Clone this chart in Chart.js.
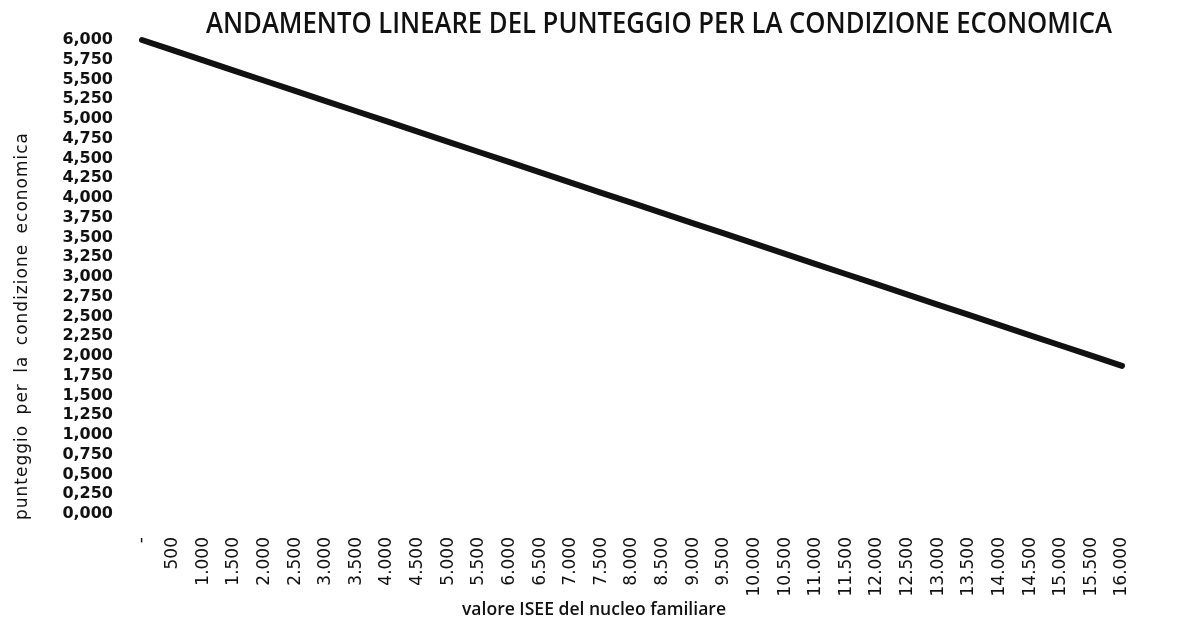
<!DOCTYPE html>
<html>
<head>
<meta charset="utf-8">
<script src="https://cdn.jsdelivr.net/npm/chart.js@4"></script>
<style>
  html, body { margin: 0; padding: 0; background: #ffffff; }
  #wrap { width: 1181px; height: 636px; position: relative; }
</style>
</head>
<body>
<div id="wrap"><canvas id="c" width="1181" height="636"></canvas></div>
<script>
const chartTitle = "ANDAMENTO LINEARE DEL PUNTEGGIO PER LA CONDIZIONE ECONOMICA";
const xTitle = "valore ISEE del nucleo familiare";
const yTitle = "punteggio per la condizione economica";

const categories = ["-", "500", "1.000", "1.500", "2.000", "2.500", "3.000", "3.500", "4.000", "4.500",
  "5.000", "5.500", "6.000", "6.500", "7.000", "7.500", "8.000", "8.500", "9.000", "9.500",
  "10.000", "10.500", "11.000", "11.500", "12.000", "12.500", "13.000", "13.500", "14.000", "14.500",
  "15.000", "15.500", "16.000"];

const punteggio = [6.000, 5.871, 5.742, 5.613, 5.484, 5.355, 5.227, 5.098, 4.969, 4.840,
  4.711, 4.582, 4.453, 4.324, 4.195, 4.066, 3.938, 3.809, 3.680, 3.551,
  3.422, 3.293, 3.164, 3.035, 2.906, 2.777, 2.648, 2.520, 2.391, 2.262,
  2.133, 2.004, 1.875];

const yMin = 0, yMax = 6, yStep = 0.25;

const textPlugin = {
  id: 'texts',
  afterDraw(chart) {
    const ctx = chart.ctx;
    ctx.save();
    ctx.fillStyle = '#111111';
    // main title
    ctx.font = "600 28px 'Open Sans'";
    ctx.textBaseline = 'alphabetic';
    ctx.textAlign = 'left';
    let w = ctx.measureText(chartTitle).width;
    ctx.save();
    ctx.translate(206, 33);
    ctx.scale(906 / w, 1);
    ctx.fillText(chartTitle, 0, 0);
    ctx.restore();
    // x title
    ctx.font = "600 18px 'Open Sans'";
    w = ctx.measureText(xTitle).width;
    ctx.save();
    ctx.translate(462, 615);
    ctx.scale(264 / w, 1);
    ctx.fillText(xTitle, 0, 0);
    ctx.restore();
    // y title justified
    ctx.font = "17px 'DejaVu Sans'";
    if ('letterSpacing' in ctx) ctx.letterSpacing = '1px';
    ctx.textBaseline = 'middle';
    const words = yTitle.split(' ');
    const widths = words.map(s => ctx.measureText(s).width);
    const total = widths.reduce((a, b) => a + b, 0);
    const span = 388;
    const gap = (span - total) / (words.length - 1);
    ctx.save();
    ctx.translate(23, 326);
    ctx.rotate(-Math.PI / 2);
    let pos = -span / 2;
    words.forEach((s, i) => {
      ctx.fillText(s, pos, 0);
      pos += widths[i] + gap;
    });
    ctx.restore();
    ctx.restore();
  }
};

new Chart(document.getElementById('c'), {
  type: 'line',
  data: {
    labels: categories,
    datasets: [{
      data: punteggio,
      borderColor: '#111111',
      borderWidth: 6,
      borderCapStyle: 'round',
      pointRadius: 0,
      tension: 0,
      fill: false,
      clip: 10
    }]
  },
  options: {
    responsive: false,
    animation: false,
    devicePixelRatio: 1,
    layout: { padding: { left: 0, top: 40, right: 59, bottom: 0 } },
    plugins: {
      legend: { display: false },
      tooltip: { enabled: false },
      title: { display: false }
    },
    scales: {
      x: {
        type: 'category',
        offset: false,
        grid: { display: false, drawTicks: false },
        border: { display: false },
        ticks: {
          autoSkip: false,
          maxRotation: 90,
          minRotation: 90,
          padding: 23,
          color: '#111111',
          font: { family: "'DejaVu Sans'", size: 17 }
        },
        afterFit(scale) { scale.height = 122; }
      },
      y: {
        min: yMin,
        max: yMax,
        grid: { display: false, drawTicks: false },
        border: { display: false },
        ticks: {
          stepSize: yStep,
          autoSkip: false,
          padding: 29,
          color: '#111111',
          font: { family: "'DejaVu Sans'", size: 16, weight: 'bold' },
          callback: (v) => Number(v).toFixed(3).replace('.', ',')
        },
        afterFit(scale) { scale.width = 142; }
      }
    }
  },
  plugins: [textPlugin]
});
</script>
</body>
</html>
